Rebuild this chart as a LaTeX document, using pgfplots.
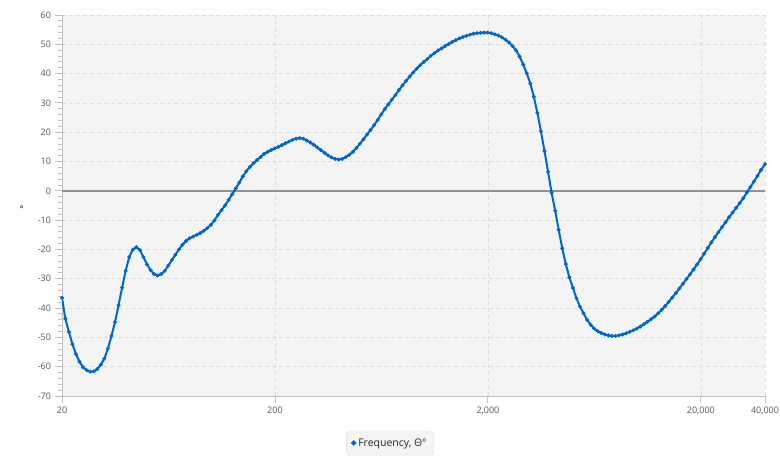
\documentclass[border=0pt]{standalone}
\usepackage{fontspec}
\setmainfont{Open Sans}
\usepackage{pgfplots}
\usepackage{pgfplotstable}
\pgfplotsset{compat=1.18}
\definecolor{curveblue}{RGB}{0,102,204}
\definecolor{bggray}{RGB}{244,244,244}
\definecolor{gridgray}{RGB}{220,220,220}
\definecolor{axisgray}{RGB}{192,192,192}
\definecolor{zerogray}{RGB}{145,145,145}
\definecolor{labelgray}{RGB}{85,85,85}
\definecolor{legendborder}{RGB}{222,222,222}

\pgfplotstableread{
f y
20 -36.5
20.73 -43.6
21.54 -48.1
22.39 -52.3
23.26 -55.7
24.17 -58.3
25.12 -60.2
26.10 -61.2
27.12 -61.7
28.18 -61.6
29.29 -60.8
30.43 -59.3
31.62 -57.2
32.86 -53.8
34.15 -49.5
35.48 -44.8
36.87 -39.0
38.31 -33.0
39.81 -27.3
41.37 -22.6
42.99 -20.1
44.67 -19.2
46.42 -20.2
48.23 -22.6
50.12 -25.1
52.08 -27.0
54.12 -28.4
56.23 -28.9
58.43 -28.4
60.72 -27.3
63.10 -25.5
65.57 -23.6
68.13 -21.8
70.79 -20.0
73.56 -18.4
76.44 -17.1
79.43 -16.2
82.54 -15.6
85.77 -15.0
89.13 -14.4
92.61 -13.6
96.24 -12.7
100 -11.6
103.91 -10.1
107.98 -8.2
112.20 -6.6
116.59 -5.0
121.15 -3.1
125.89 -1.2
130.82 0.8
135.94 2.8
141.25 4.9
146.78 6.7
152.52 8.2
158.49 9.4
164.69 10.5
171.13 11.5
177.83 12.6
184.78 13.3
192.01 13.9
199.53 14.5
207.33 15.0
215.44 15.6
223.87 16.2
232.63 16.8
241.73 17.4
251.19 17.8
261.02 18.0
271.23 17.8
281.84 17.2
292.86 16.5
304.32 15.7
316.23 14.8
328.60 13.9
341.45 13.0
354.81 12.1
368.69 11.4
383.12 10.9
398.11 10.7
413.69 10.9
429.87 11.5
446.68 12.3
464.16 13.3
482.32 14.6
501.19 16.1
520.80 17.6
541.17 19.2
562.34 20.8
584.34 22.4
607.23 24.2
630.96 26.1
655.66 27.9
681.29 29.5
707.95 31.1
735.64 32.7
764.43 34.4
794.33 36.0
825.40 37.5
857.70 39.0
891.25 40.4
926.11 41.7
962.35 42.9
1000 44.0
1039.1 45.0
1079.8 46.1
1122.0 47.0
1165.9 47.9
1211.5 48.6
1258.9 49.4
1308.2 50.1
1359.4 50.8
1412.5 51.4
1467.8 52.0
1525.2 52.5
1584.9 52.9
1646.9 53.3
1711.3 53.6
1778.3 53.8
1847.8 53.9
1920.1 54.0
1995.3 54.0
2073.3 53.8
2154.4 53.4
2238.7 53.0
2326.3 52.4
2417.3 51.6
2511.9 50.6
2610.2 49.4
2712.3 47.9
2818.4 45.8
2928.6 43.1
3043.2 40.1
3162.3 36.6
3286.0 32.1
3414.5 26.6
3548.1 20.3
3686.9 13.6
3831.2 6.5
3981.1 -0.6
4136.9 -6.8
4298.7 -13.3
4466.8 -19.6
4641.6 -25.0
4823.2 -29.5
5011.9 -33.1
5208.0 -36.6
5411.7 -39.5
5623.4 -41.8
5843.4 -44.0
6072.3 -45.7
6309.6 -47.0
6556.6 -47.9
6812.9 -48.5
7079.5 -49.0
7356.4 -49.3
7644.3 -49.5
7943.3 -49.5
8254.0 -49.3
8577.0 -49.0
8912.5 -48.6
9261.1 -48.1
9623.5 -47.6
10000 -47.0
10391 -46.3
10798 -45.5
11220 -44.7
11659 -43.8
12115 -42.9
12589 -41.8
13082 -40.6
13594 -39.3
14125 -37.9
14678 -36.4
15252 -34.9
15849 -33.3
16469 -31.7
17113 -30.1
17783 -28.5
18478 -26.8
19201 -25.1
19953 -23.3
20733 -21.4
21544 -19.5
22387 -17.6
23263 -15.8
24173 -14.1
25119 -12.4
26102 -10.7
27123 -9.0
28184 -7.4
29286 -5.8
30432 -4.2
31623 -2.5
32860 -0.6
34145 1.3
35481 3.2
36869 5.1
38312 7.1
40000 9.1
}\phasedata

\begin{document}
\begin{tikzpicture}
\path[use as bounding box] (0pt,0pt) rectangle (780pt,463pt);
\begin{axis}[
  at={(62pt,67pt)}, anchor=south west,
  scale only axis, width=703pt, height=381pt,
  xmode=log, xmin=20, xmax=40000, ymin=-70, ymax=60,
  xtick={20,200,2000,20000,40000},
  xticklabels={20,200,{2,000},{20,000},{40,000}},
  xminorticks=false,
  ytick={-70,-60,...,60}, minor y tick num=4,
  axis x line*=bottom, axis y line*=left,
  axis line style={-, draw=axisgray, line width=0.9pt},
  tick align=outside, major tick length=7.5pt, minor tick length=4.5pt,
  tick style={draw=axisgray, line width=0.9pt},
  grid=major,
  major grid style={draw=gridgray, line width=0.7pt, dash pattern=on 4pt off 3pt},
  axis background/.style={fill=bggray},
  ticklabel style={font=\fontsize{9}{10}\selectfont, text=labelgray},
  /pgf/number format/assume math mode=true,
  extra y ticks={0}, extra y tick labels={},
  extra y tick style={major grid style={solid, draw=zerogray, line width=1.5pt}, major tick length=0pt},
  ylabel={°},
  every axis y label/.style={at={(axis description cs:-0.057,0.49)}, anchor=center, font=\fontsize{9}{10}\selectfont, text=black},
  legend style={at={(axis description cs:0.4666,-0.1234)}, anchor=center,
    fill=bggray, draw=legendborder, rounded corners=3pt,
    font=\fontsize{10.5}{12}\selectfont, text=black!85,
    inner xsep=5pt, inner ysep=5.5pt},
  legend image code/.code={\fill[curveblue] (0pt,0pt) circle (1.5pt);},
]
\addplot[curveblue, line width=2pt, mark=*, mark size=1.8pt, mark options={solid, fill=curveblue, draw=curveblue, line width=0.4pt}] table[x=f,y=y] {\phasedata};
\addlegendentry{Frequency, Θ°}
\end{axis}
\end{tikzpicture}
\end{document}
